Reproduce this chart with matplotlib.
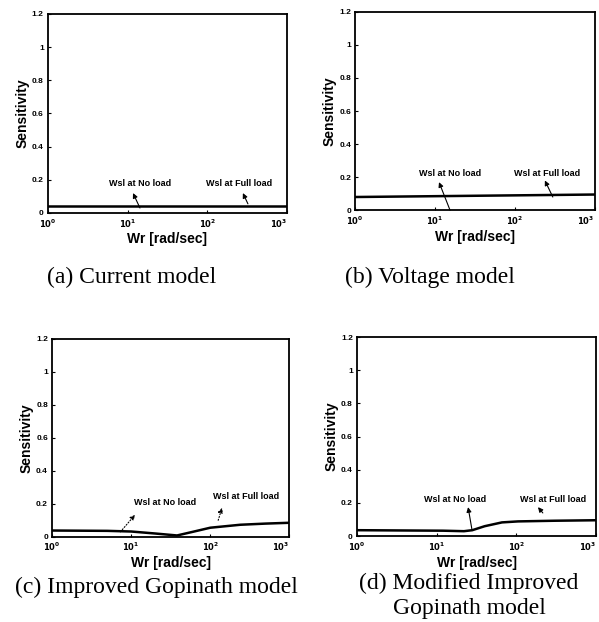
import matplotlib
matplotlib.use("Agg")
import matplotlib.pyplot as plt

# ---- data ----
y_ticks = [0, 0.2, 0.4, 0.6, 0.8, 1.0, 1.2]
y_tick_labels = ["0", "0.2", "0.4", "0.6", "0.8", "1", "1.2"]
x_ticks = [1, 10, 100, 1000]
x_tick_labels = [r"$\mathbf{10^{0}}$", r"$\mathbf{10^{1}}$", r"$\mathbf{10^{2}}$", r"$\mathbf{10^{3}}$"]

a_wr = [1, 1000]
a_sens = [0.045, 0.045]

b_wr = [1, 10, 100, 1000]
b_sens = [0.08, 0.085, 0.09, 0.095]

c_wr = [1, 5, 10, 20, 38, 60, 100, 240, 500, 1000]
c_sens = [0.038, 0.036, 0.032, 0.02, 0.008, 0.03, 0.055, 0.073, 0.08, 0.085]

d_wr = [1, 5, 12, 22, 28, 40, 66, 105, 300, 1000]
d_sens = [0.036, 0.034, 0.033, 0.03, 0.036, 0.06, 0.083, 0.089, 0.093, 0.096]

captions = ["(a) Current model", "(b) Voltage model",
            "(c) Improved Gopinath model", "(d) Modified Improved\nGopinath model"]

# annotations: (text, text_xy, arrow_head_xy, arrow_tail_xy, linestyle)
ann_a = [("Wsl at No load", (14.3, 0.18), (11.7, 0.12), (14.3, 0.03), "-"),
         ("Wsl at Full load", (250, 0.18), (280, 0.12), (324, 0.055), "-")]
ann_b = [("Wsl at No load", (15.4, 0.22), (11.2, 0.17), (15.4, 0.0), "-"),
         ("Wsl at Full load", (251, 0.22), (237, 0.18), (298, 0.08), "-")]
ann_c = [("Wsl at No load", (27, 0.206), (11.2, 0.133), (7.3, 0.03), ":"),
         ("Wsl at Full load", (285, 0.242), (141, 0.176), (126, 0.10), ":")]
ann_d = [("Wsl at No load", (17, 0.223), (24.8, 0.175), (27.8, 0.036), "-"),
         ("Wsl at Full load", (288, 0.223), (187, 0.175), (215, 0.14), "-")]

fig = plt.figure(figsize=(5.99, 6.22), dpi=100)

positions = [
    [0.080, 0.6576, 0.399, 0.320],
    [0.593, 0.662, 0.400, 0.319],
    [0.087, 0.137, 0.396, 0.318],
    [0.596, 0.138, 0.399, 0.320],
]
series = [(a_wr, a_sens, ann_a), (b_wr, b_sens, ann_b), (c_wr, c_sens, ann_c), (d_wr, d_sens, ann_d)]
caption_xy = [(132, 277), (430, 277), (156, 587), (469, 596)]

for i, (pos, (wr, sens, anns)) in enumerate(zip(positions, series)):
    ax = fig.add_axes(pos)
    ax.plot(wr, sens, color="black", lw=1.8)
    ax.set_xscale("log")
    ax.set_xlim(1, 1000)
    ax.set_ylim(0, 1.2)
    ax.set_xticks(x_ticks)
    ax.set_xticklabels(x_tick_labels, fontsize=6)
    ax.get_xticklabels()[-1].set_horizontalalignment("right")
    ax.minorticks_off()
    ax.set_yticks(y_ticks)
    ax.set_yticklabels(y_tick_labels, fontsize=6, fontweight="bold", family="Liberation Sans")
    ax.tick_params(direction="in", length=2, width=0.8, pad=3)
    for s in ax.spines.values():
        s.set_linewidth(1.3)
    ax.set_ylabel("Sensitivity", fontsize=10, fontweight="bold", family="Liberation Sans", labelpad=2)
    ax.set_xlabel("Wr [rad/sec]", fontsize=10, fontweight="bold", family="Liberation Sans", labelpad=2)
    for txt, txy, head, tail, ls in anns:
        ax.text(txy[0], txy[1], txt, fontsize=6.5, fontweight="bold", family="Liberation Sans",
                ha="center", va="center")
        ax.annotate("", xy=head, xytext=tail,
                    arrowprops=dict(arrowstyle="-|>", color="black", lw=0.8,
                                    linestyle=ls, mutation_scale=7, shrinkA=0, shrinkB=0))
    cx, cy = caption_xy[i]
    fig.text(cx / 599, 1 - cy / 622, captions[i], fontsize=17, family="Liberation Serif",
             ha="center", va="center", linespacing=1.25)

fig.savefig("out.png", dpi=100)
